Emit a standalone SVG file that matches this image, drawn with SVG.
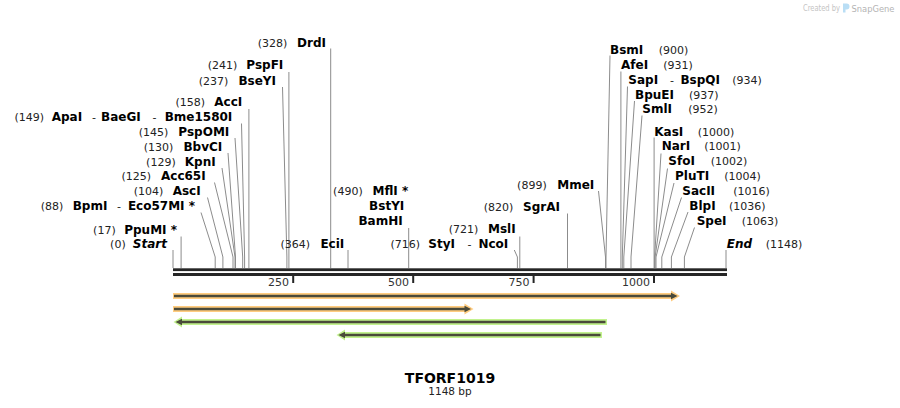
<svg xmlns="http://www.w3.org/2000/svg" width="900" height="408" viewBox="0 0 900 408">
<style>
.num{font-family:"DejaVu Sans",Verdana,sans-serif;font-size:11px;fill:#222}
.nm{font-family:"DejaVu Sans",Verdana,sans-serif;font-size:12px;font-weight:bold;fill:#000}
.it{font-style:italic}
.e{text-anchor:end}
.cn{stroke:#8c8c8c;stroke-width:1;fill:none}
.rl{fill:#262626}
.tk{font-family:"DejaVu Sans",Verdana,sans-serif;font-size:11px;fill:#333;text-anchor:end}
.inner{stroke:#4a4a3a;stroke-width:2.6;fill:none}
.head{fill:#4a4a3a}
.or{fill:#ffcc80}
.gr{fill:#c2f28e}
</style>
<rect width="900" height="408" fill="#fff"/>

<g id="watermark">
<text x="803" y="11" textLength="37" lengthAdjust="spacingAndGlyphs" style="font-family:'DejaVu Sans',sans-serif;font-size:8px;fill:#c4c4c4">Created by</text>
<path d="M843,3.5 h3.5 a3,3 0 0 1 0,6 h-1 v3 h-2.5 z" fill="#b9def5"/>
<text x="851.5" y="11.5" textLength="43" lengthAdjust="spacingAndGlyphs" style="font-family:'DejaVu Sans',sans-serif;font-size:9.5px;fill:#b4b4b4">SnapGene</text>
</g>

<g id="connectors">
<path class="cn" d="M173,250V268"/>
<path class="cn" d="M181.1,236.5V268"/>
<path class="cn" d="M201,212.5L215.2,257V268"/>
<path class="cn" d="M207.5,197.5L222.9,257V268"/>
<path class="cn" d="M214.5,182.5L233,257V268"/>
<path class="cn" d="M222,168L235,257V268"/>
<path class="cn" d="M228,153L235.5,257V268"/>
<path class="cn" d="M235,138L242.7,257V268"/>
<path class="cn" d="M241.5,123.5L244.6,257V268"/>
<path class="cn" d="M248.9,109V268"/>
<path class="cn" d="M282.5,87L286.9,257V268"/>
<path class="cn" d="M288.9,72V268"/>
<path class="cn" d="M330.7,48.5V268"/>
<path class="cn" d="M348,250V268"/>
<path class="cn" d="M408.7,228V268"/>
<path class="cn" d="M514.3,250L517.4,257V268"/>
<path class="cn" d="M519.8,236.5V268"/>
<path class="cn" d="M567.5,213.5V268"/>
<path class="cn" d="M598.5,191L605.5,257V268"/>
<path class="cn" d="M610,55.5L606,257V268"/>
<path class="cn" d="M620.9,71.5V268"/>
<path class="cn" d="M627.5,86.5L622.3,257V268"/>
<path class="cn" d="M634.5,101L623.8,257V268"/>
<path class="cn" d="M642,115.5L631,257V268"/>
<path class="cn" d="M654.1,137.5V268"/>
<path class="cn" d="M661,153.5L654.6,257V268"/>
<path class="cn" d="M667.5,168.5L655.1,257V268"/>
<path class="cn" d="M674,183L656,257V268"/>
<path class="cn" d="M681.5,197.5L661.8,257V268"/>
<path class="cn" d="M688,212L671.4,257V268"/>
<path class="cn" d="M694.5,227.5L684.4,257V268"/>
<path class="cn" d="M726,250V268"/>
</g>

<g id="ruler">
<rect class="rl" x="173" y="268.3" width="554" height="2.8"/>
<rect class="rl" x="173" y="273" width="554" height="3"/>
<rect class="rl" x="292.2" y="276" width="2" height="7"/>
<rect class="rl" x="412.2" y="276" width="2" height="7"/>
<rect class="rl" x="532.6" y="276" width="2" height="7"/>
<rect class="rl" x="653" y="276" width="2" height="7"/>
<text class="tk" x="289" y="286">250</text>
<text class="tk" x="409" y="286">500</text>
<text class="tk" x="529.5" y="286">750</text>
<text class="tk" x="650" y="286">1000</text>
</g>

<g id="start"><text class="num e" x="125.7" y="248">(0)</text><text class="nm it e" x="167" y="248">Start</text></g>
<g id="ppumi"><text class="num e" x="115.7" y="234">(17)</text><text class="nm e" x="177" y="234">PpuMI *</text></g>
<g id="bpmi"><text class="num e" x="63.3" y="210">(88)</text><text class="nm" x="72.7" y="210">BpmI</text><text class="num" x="117" y="210">-</text><text class="nm e" x="195" y="210">Eco57MI *</text></g>
<g id="asci"><text class="num e" x="163.3" y="195">(104)</text><text class="nm e" x="200.7" y="195">AscI</text></g>
<g id="acc65i"><text class="num e" x="151" y="180">(125)</text><text class="nm e" x="205.7" y="180">Acc65I</text></g>
<g id="kpni"><text class="num e" x="175.7" y="166">(129)</text><text class="nm e" x="215.7" y="166">KpnI</text></g>
<g id="bbvci"><text class="num e" x="173.3" y="151">(130)</text><text class="nm e" x="222.3" y="151">BbvCI</text></g>
<g id="pspomi"><text class="num e" x="168.3" y="136">(145)</text><text class="nm e" x="229.3" y="136">PspOMI</text></g>
<g id="apai"><text class="num e" x="44" y="121">(149)</text><text class="nm" x="51.7" y="121">ApaI</text><text class="num" x="92" y="121">-</text><text class="nm" x="101" y="121">BaeGI</text><text class="num" x="152.5" y="121">-</text><text class="nm e" x="232.3" y="121">Bme1580I</text></g>
<g id="acci"><text class="num e" x="205" y="106">(158)</text><text class="nm e" x="242.3" y="106">AccI</text></g>
<g id="bseyi"><text class="num e" x="228.3" y="85">(237)</text><text class="nm e" x="276" y="85">BseYI</text></g>
<g id="pspfi"><text class="num e" x="237.3" y="69">(241)</text><text class="nm e" x="283.3" y="69">PspFI</text></g>
<g id="drdi"><text class="num e" x="287.3" y="47">(328)</text><text class="nm e" x="326" y="47">DrdI</text></g>

<g id="ecii"><text class="num e" x="310" y="248">(364)</text><text class="nm e" x="344.3" y="248">EciI</text></g>
<g id="mfli"><text class="num e" x="362.7" y="195">(490)</text><text class="nm e" x="408.3" y="195">MflI *</text><text class="nm e" x="404.3" y="210">BstYI</text><text class="nm e" x="402.7" y="225">BamHI</text></g>
<g id="styi"><text class="num e" x="420" y="248">(716)</text><text class="nm" x="428.3" y="248">StyI</text><text class="num" x="467.5" y="248">-</text><text class="nm e" x="508.3" y="248">NcoI</text></g>
<g id="msli"><text class="num e" x="478.3" y="233">(721)</text><text class="nm e" x="515.7" y="233">MslI</text></g>
<g id="sgrai"><text class="num e" x="513.3" y="211">(820)</text><text class="nm e" x="560" y="211">SgrAI</text></g>
<g id="mmei"><text class="num e" x="546.7" y="189">(899)</text><text class="nm e" x="594.3" y="189">MmeI</text></g>

<g id="bsmi"><text class="nm" x="610" y="54">BsmI</text><text class="num" x="658.7" y="54">(900)</text></g>
<g id="afei"><text class="nm" x="621" y="69">AfeI</text><text class="num" x="663.3" y="69">(931)</text></g>
<g id="sapi"><text class="nm" x="628.3" y="84">SapI</text><text class="num" x="670" y="84">-</text><text class="nm e" x="720" y="84">BspQI</text><text class="num" x="732.3" y="84">(934)</text></g>
<g id="bpuei"><text class="nm" x="635" y="99">BpuEI</text><text class="num" x="689" y="99">(937)</text></g>
<g id="smli"><text class="nm" x="642.3" y="113">SmlI</text><text class="num" x="688.3" y="113">(952)</text></g>
<g id="kasi"><text class="nm" x="654.3" y="136">KasI</text><text class="num" x="697.7" y="136">(1000)</text></g>
<g id="nari"><text class="nm" x="661.7" y="150">NarI</text><text class="num" x="704.3" y="150">(1001)</text></g>
<g id="sfoi"><text class="nm" x="668.3" y="165">SfoI</text><text class="num" x="710.7" y="165">(1002)</text></g>
<g id="pluti"><text class="nm" x="675" y="180">PluTI</text><text class="num" x="724.3" y="180">(1004)</text></g>
<g id="sacii"><text class="nm" x="682.3" y="195">SacII</text><text class="num" x="733.3" y="195">(1016)</text></g>
<g id="blpi"><text class="nm" x="689.3" y="210">BlpI</text><text class="num" x="729" y="210">(1036)</text></g>
<g id="spei"><text class="nm" x="696.7" y="225">SpeI</text><text class="num" x="741.7" y="225">(1063)</text></g>
<g id="end"><text class="nm it" x="726.7" y="248">End</text><text class="num" x="765.7" y="248">(1148)</text></g>

<g id="feature1">
<path class="or" d="M173,293H671V290.5L680,296L671,301.5V299H173Z"/>
<path class="inner" d="M174,296H672"/>
<path class="head" d="M671,292.8L677.5,296L671,299.2Z"/>
</g>
<g id="feature2">
<path class="or" d="M173,306H464.5V303.5L473.5,309L464.5,314.5V312H173Z"/>
<path class="inner" d="M174,309H465"/>
<path class="head" d="M464.5,305.8L471,309L464.5,312.2Z"/>
</g>
<g id="feature3">
<path class="gr" d="M607,319H182V316.5L173.5,322L182,327.5V325H607Z"/>
<path class="inner" d="M605.5,322H181"/>
<path class="head" d="M182,318.8L175.5,322L182,325.2Z"/>
</g>
<g id="feature4">
<path class="gr" d="M602,332H345V329.5L336.5,335L345,340.5V338H602Z"/>
<path class="inner" d="M600.5,335H344"/>
<path class="head" d="M345,331.8L338.5,335L345,338.2Z"/>
</g>

<g id="title">
<text x="450" y="383" text-anchor="middle" style="font-family:'DejaVu Sans',Verdana,sans-serif;font-size:14px;font-weight:bold;fill:#000">TFORF1019</text>
<text x="450" y="395" text-anchor="middle" style="font-family:'DejaVu Sans',Verdana,sans-serif;font-size:10.5px;fill:#222">1148 bp</text>
</g>
</svg>
